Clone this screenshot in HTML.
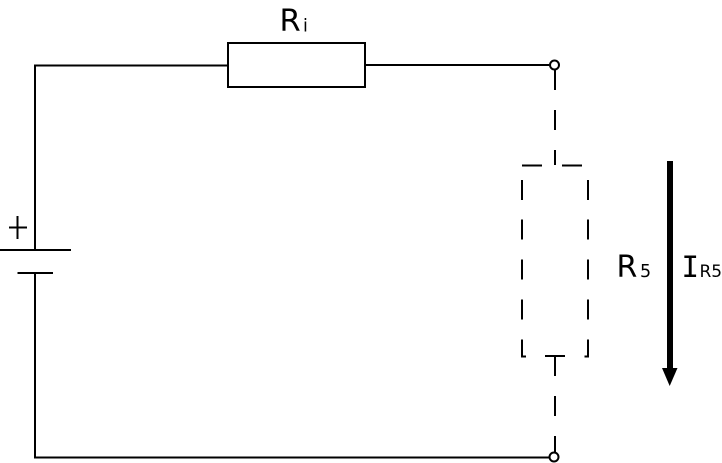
<!DOCTYPE html>
<html lang="en">
<head>
<meta charset="utf-8">
<title>Circuit diagram</title>
<style>
html,body{margin:0;padding:0;background:#fff;}
svg{display:block;}
text{font-family:"DejaVu Sans","Liberation Sans",sans-serif;fill:#000;}
</style>
</head>
<body>
<svg width="722" height="463" viewBox="0 0 722 463" xmlns="http://www.w3.org/2000/svg">
  <rect width="722" height="463" fill="#fff"/>
  <g fill="none" stroke="#000" stroke-width="2">
    <path d="M35 250V65.500H228"/>
    <rect x="228" y="43" width="137" height="44"/>
    <path d="M365 65H549"/>
    <path d="M0 250H71" stroke-width="2"/>
    <path d="M17.500 273H53" stroke-width="2"/>
    <path d="M35 273V457.500H549"/>
    <path d="M9 227.500H27M17.500 216V239" stroke-width="2"/>
    <path d="M555 70V90M555 110V130M555 150V165"/>
    <path d="M522 165.500H542M562 165.500H582"/>
    <path d="M522 180V200M522 219.500V239.500M522 299.500V319.500M522 259.500V279.500M522 339.500V356.500H526"/>
    <path d="M588 180V200M588 219.500V239.500M588 259.500V279.500M588 299.500V319.500M588 339.500V356.500H584.500"/>
    <path d="M545 356H565"/>
    <path d="M555 356V376M555 396V416M555 436V452"/>
    <circle cx="554.500" cy="65" r="4.500" fill="#fff"/>
    <circle cx="554" cy="457" r="4.500" fill="#fff"/>
  </g>
  <g>
    <rect x="667" y="161" width="6" height="208" fill="#000"/>
    <path d="M662 368H677.500L669.700 386Z" fill="#000"/>
  </g>
  <text x="279.500" y="31" font-size="30.500">R</text>
  <text x="303" y="31.500" font-size="17.500">i</text>
  <text x="616.500" y="277" font-size="30">R</text>
  <text x="640" y="277" font-size="17.500">5</text>
  <text x="681.500" y="277" font-size="29" style="font-family:'DejaVu Sans Mono',monospace">I</text>
  <text x="699.500" y="277" font-size="17">R5</text>
</svg>
</body>
</html>
